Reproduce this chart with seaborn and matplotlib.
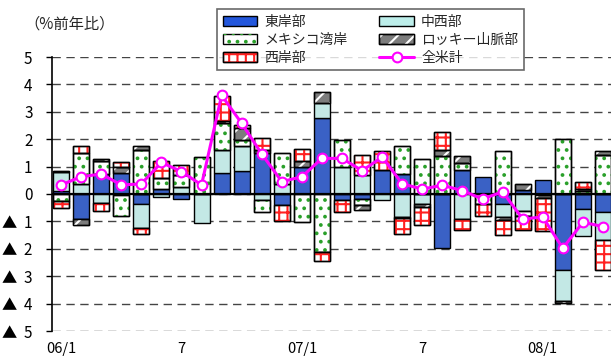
import numpy as np
import pandas as pd
import matplotlib
matplotlib.use("Agg")
import matplotlib.pyplot as plt
import seaborn as sns
from matplotlib.patches import Patch
from matplotlib.lines import Line2D
from matplotlib.legend_handler import HandlerTuple

# ---- data: regional contributions to the US year-on-year change (%) ----
months = ["06/1", "06/2", "06/3", "06/4", "06/5", "06/6", "06/7", "06/8", "06/9",
          "06/10", "06/11", "06/12", "07/1", "07/2", "07/3", "07/4", "07/5", "07/6",
          "07/7", "07/8", "07/9", "07/10", "07/11", "07/12", "08/1", "08/2", "08/3",
          "08/4"]
tick_idx = [0, 6, 12, 18, 24]
tick_labels = ["06/1", "7", "07/1", "7", "08/1"]

east = [0.10, -0.92, 0.72, 0.76, -0.37, 0.20, -0.18, 0.00, 0.75, 0.84, 1.49, -0.40,
        1.00, 2.76, -0.22, -0.20, 0.87, 0.72, 0.00, -1.96, 0.87, 0.63, -0.35, 0.13,
        0.50, -2.77, -0.53, -0.66]
midwest = [0.70, 0.35, -0.32, -0.05, -0.88, -0.10, 0.25, -1.05, 0.85, 0.93, -0.22, 0.38,
           0.00, 0.55, 1.00, 0.70, -0.22, -0.83, -0.37, 0.00, -0.90, 0.00, -0.50, -0.62,
           -0.05, -1.15, -1.02, -1.02]
gulf = [-0.25, 1.15, 0.50, -0.75, 1.60, 0.40, 0.45, 1.34, 1.00, 0.20, -0.42, 1.10,
        -1.02, -2.10, 0.98, -0.20, 0.00, 1.05, 1.28, 1.37, 0.27, -0.37, 1.58, -0.18,
        0.00, 2.00, 0.12, 1.42]
rocky = [0.05, -0.22, 0.07, 0.22, 0.15, 0.00, 0.00, 0.00, 0.06, 0.45, 0.10, 0.00,
         0.22, 0.42, 0.00, -0.18, 0.00, -0.06, -0.10, 0.24, 0.24, 0.00, -0.10, 0.22,
         -0.10, -0.07, 0.08, 0.15]
west = [-0.27, 0.25, -0.31, 0.17, -0.20, 0.60, 0.35, 0.00, 0.92, 0.10, 0.47, -0.58,
        0.41, -0.35, -0.45, 0.72, 0.70, -0.56, -0.66, 0.65, -0.40, -0.43, -0.55, -0.51,
        -1.20, 0.00, 0.25, -1.10]
total = [0.33, 0.63, 0.73, 0.33, 0.37, 1.15, 0.82, 0.33, 3.60, 2.58, 1.46, 0.45,
         0.63, 1.30, 1.30, 0.85, 1.35, 0.37, 0.18, 0.32, 0.12, -0.18, 0.08, -0.91,
         -0.84, -1.98, -1.03, -1.19]

names = ["東岸部", "中西部", "メキシコ湾岸", "ロッキー山脈部", "西岸部", "全米計"]

# ---- styles ----
BLUE = "#2357dc"
CYAN = "#bdeeea"
GRAY = "#7c7c7c"
GREEN = "#2aa02a"
RED = "#ff2020"
MAGENTA = "#ff00ff"

sns.set_theme(style="white")
plt.rcParams["font.family"] = ["Noto Sans CJK JP", "DejaVu Sans"]
plt.rcParams["hatch.linewidth"] = 1.5

fig = plt.figure(figsize=(6.11, 3.62), dpi=100)
ax = fig.add_axes([52 / 611, 31 / 362, 561 / 611, 274 / 362])

n = len(months)
layers = [
    (east, BLUE, None, None),
    (midwest, CYAN, None, None),
    (gulf, "white", "..", GREEN),
    (rocky, GRAY, "//", "white"),
    (west, "white", "++", RED),
]

pos_base = np.zeros(n)
neg_base = np.zeros(n)


def draw_layer(values, bottom, **kws):
    df = pd.DataFrame({"month": months, "v": values})
    before = len(ax.patches)
    sns.barplot(data=df, x="month", y="v", order=months, bottom=bottom, width=0.8,
                errorbar=None, ax=ax, **kws)
    for p, v in zip(ax.patches[before:], values):
        if v == 0:
            p.set_visible(False)


for vals, face, hatch, hcolor in layers:
    vals = np.asarray(vals, dtype=float)
    bottom = np.where(vals >= 0, pos_base, neg_base)
    draw_layer(vals, bottom, color=face, edgecolor="black", linewidth=1.0, zorder=2)
    if hatch:
        draw_layer(vals, bottom, color=face, facecolor="none", edgecolor=hcolor,
                   hatch=hatch, linewidth=0, zorder=2.1)
        # redraw the outline over the pattern
        draw_layer(vals, bottom, color=face, facecolor="none", edgecolor="black",
                   linewidth=1.0, zorder=2.2)
    pos_base += np.clip(vals, 0, None)
    neg_base += np.clip(vals, None, 0)

ax.axhline(0, color="black", lw=1.6, zorder=3)

sns.lineplot(x=np.arange(n), y=total, ax=ax, color=MAGENTA, lw=2.2, marker="o",
             markersize=7, markerfacecolor="white", markeredgecolor=MAGENTA,
             markeredgewidth=1.5, zorder=5)

# ---- axes ----
ax.set_xlim(-0.45, 27.5)
ax.set_ylim(-5, 5)
ax.set_yticks(range(-5, 6))
ax.set_yticklabels([f"▲  {-v}" if v < 0 else str(v) for v in range(-5, 6)],
                   fontsize=11)
ax.set_xticks(tick_idx)
ax.set_xticklabels(tick_labels, fontsize=10.5)
ax.set_xlabel("")
ax.set_ylabel("")
ax.tick_params(axis="x", length=0, pad=8, colors="black")
ax.tick_params(axis="y", length=4, width=1, pad=10, colors="black", direction="out", left=True)
ax.yaxis.grid(True, linestyle=(0, (6, 4)), color="#444444", lw=1.0, zorder=0)
ax.xaxis.grid(False)
ax.set_axisbelow(True)
for side in ("top", "right", "bottom"):
    ax.spines[side].set_visible(False)
ax.spines["left"].set_color("black")
ax.spines["left"].set_linewidth(1.2)

fig.text(24 / 611, 1 - 24 / 362, "（%前年比）", fontsize=11, ha="left", va="center")

# ---- legend ----
h_east = Patch(facecolor=BLUE, edgecolor="black")
h_mid = Patch(facecolor=CYAN, edgecolor="black")
h_gulf = (Patch(facecolor="white", edgecolor="black"),
          Patch(facecolor="none", edgecolor=GREEN, hatch="..", lw=0))
h_rocky = (Patch(facecolor=GRAY, edgecolor="black"),
           Patch(facecolor="none", edgecolor="white", hatch="//", lw=0),
           Patch(facecolor="none", edgecolor="black"))
h_west = (Patch(facecolor="white", edgecolor="black"),
          Patch(facecolor="none", edgecolor=RED, hatch="++", lw=0),
          Patch(facecolor="none", edgecolor="black"))
h_total = Line2D([], [], color=MAGENTA, lw=2.2, marker="o", markersize=7,
                 markerfacecolor="white", markeredgecolor=MAGENTA, markeredgewidth=1.5)

leg = ax.legend([h_east, h_gulf, h_west, h_mid, h_rocky, h_total],
                [names[0], names[2], names[4], names[1], names[3], names[5]],
                ncol=2, loc="upper left", bbox_to_anchor=(217 / 611, 1 - 9 / 362),
                bbox_transform=fig.transFigure, borderaxespad=0, fontsize=10,
                handlelength=2.5, handleheight=0.7, handletextpad=0.5,
                labelspacing=0.3, columnspacing=2.3, borderpad=0.4,
                frameon=True, fancybox=False, edgecolor="#444444",
                handler_map={tuple: HandlerTuple(ndivide=1, pad=0)})
leg.get_frame().set_linewidth(1.2)
leg.set_zorder(10)

fig.savefig("out.png", dpi=100)
